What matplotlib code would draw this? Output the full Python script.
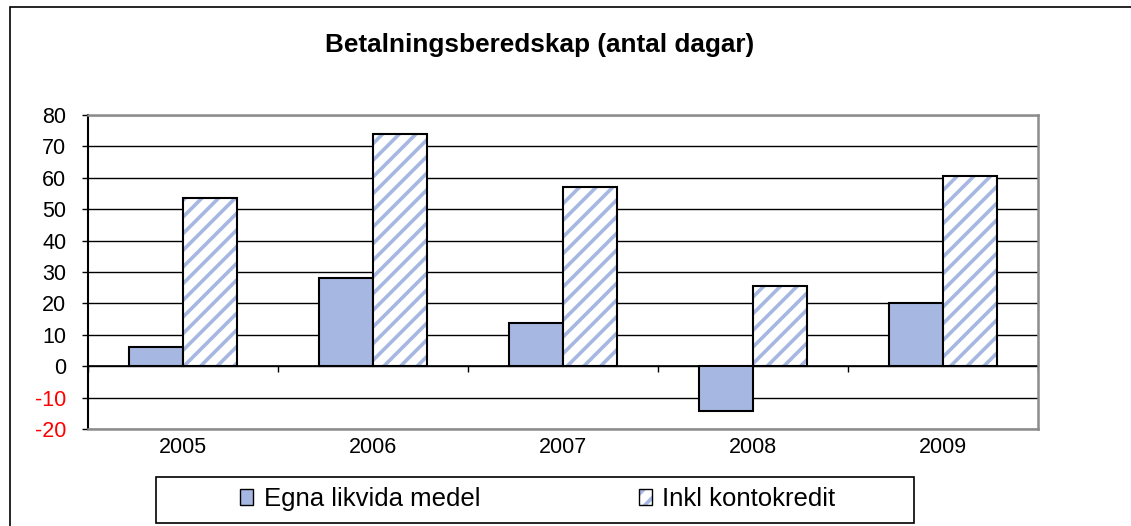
import matplotlib
matplotlib.use("Agg")
import matplotlib.pyplot as plt
from matplotlib.patches import Patch, Rectangle
import numpy as np

plt.rcParams['font.family'] = ['Liberation Sans', 'DejaVu Sans']
plt.rcParams['hatch.linewidth'] = 2.6

years = ['2005', '2006', '2007', '2008', '2009']
egna = [6, 28.2, 13.7, -14.4, 20]
inkl = [53.7, 74.1, 57, 25.7, 60.6]
yticks = [-20, -10, 0, 10, 20, 30, 40, 50, 60, 70, 80]
title = 'Betalningsberedskap (antal dagar)'
labels = ['Egna likvida medel', 'Inkl kontokredit']

blue = '#A6B8E2'
grey = '#8c8c8c'
fs = 15.5

fig = plt.figure(figsize=(11.31, 5.26), dpi=100)
ax = fig.add_axes([88/1131, 1-429/526, 950/1131, 314/526])

x = np.arange(len(years))
w = 0.284

ax.bar(x - w/2, egna, w, color=blue, edgecolor='black', linewidth=1.5, zorder=3)
# hatch in blue, outline in black on top
ax.bar(x + w/2, inkl, w, color='white', edgecolor=blue, hatch='//', linewidth=0, zorder=3)
ax.bar(x + w/2, inkl, w, fill=False, edgecolor='black', linewidth=1.5, zorder=4)

ax.set_xlim(-0.5, len(years) - 0.5)
ax.set_ylim(-20, 80)
ax.set_yticks(yticks)
ax.set_yticklabels([str(v) for v in yticks], fontsize=fs)
for lab, v in zip(ax.get_yticklabels(), yticks):
    if v < 0:
        lab.set_color('red')
ax.tick_params(axis='y', direction='out', length=4.5, width=1, pad=11)
ax.set_xticks(x)
ax.set_xticklabels(years, fontsize=fs)
ax.tick_params(axis='x', length=0, pad=6)

ax.yaxis.grid(True, color='black', linewidth=1, zorder=0)
ax.set_axisbelow(True)
ax.axhline(0, color='black', linewidth=1.2, zorder=2)
ax.vlines(np.arange(len(years) + 1) - 0.5, -1.9, 0, color='black', linewidth=1, zorder=2)

for s in ['top', 'right', 'bottom']:
    ax.spines[s].set_color(grey)
    ax.spines[s].set_linewidth(1.8)
ax.spines['left'].set_color('black')
ax.spines['left'].set_linewidth(1.5)

fig.text(540/1131, 1-45/526, title, fontsize=18.8, fontweight='bold', ha='center', va='center')

# outer chart border
fig.patches.append(Rectangle((10/1131, -0.05), 1.1, 1-7/526+0.05, transform=fig.transFigure,
                             fill=False, edgecolor='black', linewidth=1.2))
# legend box
fig.patches.append(Rectangle((156/1131, 1-523/526), 758/1131, 46/526, transform=fig.transFigure,
                             fill=False, edgecolor='black', linewidth=1.2))

h1 = Patch(facecolor=blue, edgecolor='black', linewidth=1)
h2a = Patch(facecolor='white', edgecolor=blue, hatch='//', linewidth=0)
h2b = Patch(fill=False, edgecolor='black', linewidth=1)
fig.legend([h1, (h2a, h2b)], labels, loc='center', bbox_to_anchor=(538/1131, 1-499/526),
           ncol=2, frameon=False, fontsize=18.5, handlelength=0.5, handleheight=0.55,
           handletextpad=0.4, columnspacing=6.2)

fig.savefig('out.png', dpi=100)
